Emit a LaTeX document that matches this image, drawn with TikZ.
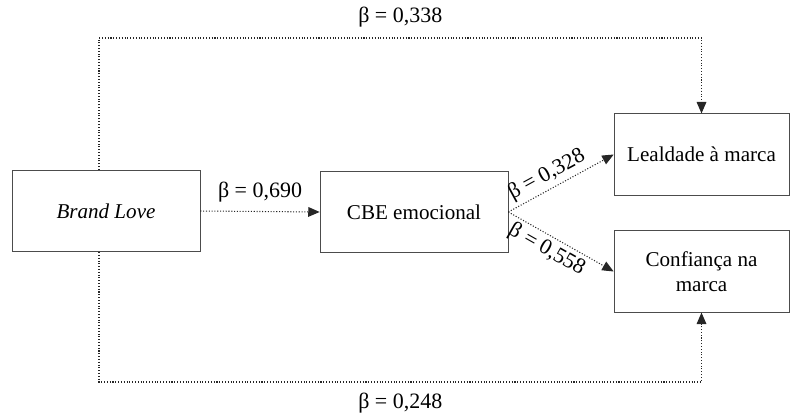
\documentclass[tikz,border=0pt]{standalone}
\usepackage{fontspec}
\setmainfont{Liberation Serif}
\usepackage{tikz}
\usetikzlibrary{calc,arrows.meta}

\tikzset{
  construct/.style={draw=black!70, thin, fill=white, minimum height=1.63cm,
    align=center, font=\fontsize{12}{14}\selectfont},
  link/.style={draw=black!85, densely dotted, semithick},
  tip/.style={-{Triangle[length=6.5pt,width=5.5pt]}},
  coef/.style={font=\fontsize{12.5}{14}\selectfont, inner sep=2pt}
}

\begin{document}
\begin{tikzpicture}[x=0.02cm,y=-0.02cm]

  % frame of the figure
  \useasboundingbox (0,0) rectangle (790,416);

  % the constructs
  \node[construct, minimum width=3.76cm] (brand) at (106,211) {\textit{Brand Love}};
  \node[construct, minimum width=3.76cm] (cbe) at (414,212) {CBE emocional};
  \node[construct, minimum width=3.5cm] (loyal) at (701.5,154.5) {Lealdade à marca};
  \node[construct, minimum width=3.5cm] (trust) at (701.5,271.5) {Confiança na\\marca};

  % corners of the outer paths
  \coordinate (topturn) at (99,38);
  \coordinate (botturn) at (99,382);

  % direct effects round the mediator
  \draw[link,tip] (brand.north -| topturn) -- (topturn) -| node[pos=0.25,above,coef,yshift=4pt] {β = 0,338} (loyal.north);
  \draw[link,tip] (brand.south -| botturn) -- (botturn) -| node[pos=0.25,below,coef,yshift=-4pt] {β = 0,248} (trust.south);

  % path through the mediator
  \draw[link,tip] (brand.east) -- node[above,coef,yshift=3pt] {β = 0,690} (cbe.west);
  \draw[link,tip] (cbe.east) -- node[pos=0.43,sloped,above,coef] {β = 0,328} (loyal.west);
  \draw[link,tip] (cbe.east) -- node[pos=0.43,sloped,below,coef] {β = 0,558} (trust.west);

\end{tikzpicture}
\end{document}
